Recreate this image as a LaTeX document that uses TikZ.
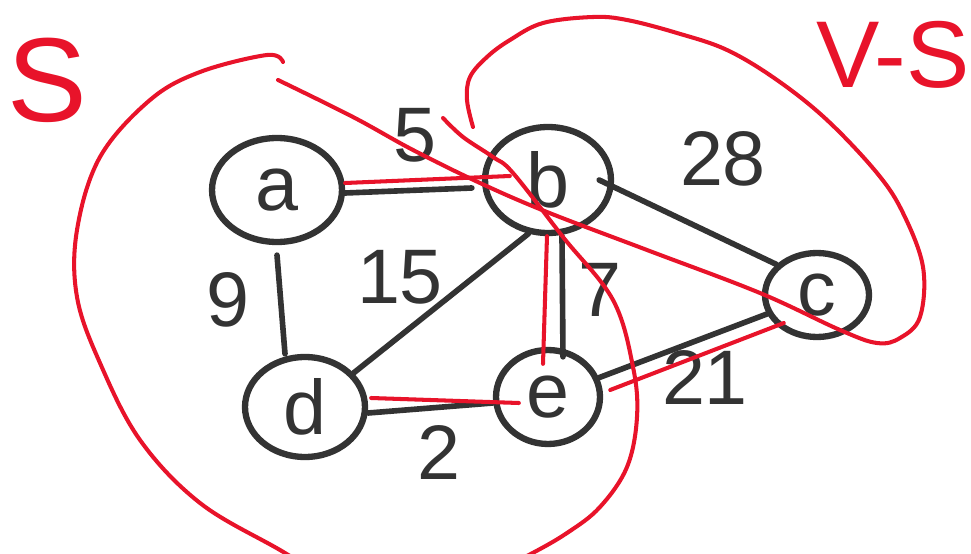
\documentclass[tikz,border=0pt]{standalone}
\usepackage{fontspec}
\setmainfont{Liberation Sans}
\usetikzlibrary{shapes.geometric}

\definecolor{ink}{HTML}{333333}
\definecolor{pen}{HTML}{E8132A}

\begin{document}
\begin{tikzpicture}[
  x=0.02cm,
  y=-0.02cm,
  line cap=round,
  line join=round,
  every node/.style={font=\fontsize{44}{44}\selectfont,text=ink},
  vertex node/.style={ellipse,draw=ink,line width=3.6pt,inner sep=0pt},
  edge line/.style={draw=ink,line width=3.2pt},
  cut line/.style={draw=pen,line width=2.3pt},
  weight label/.style={inner sep=0pt},
  set label/.style={text=pen,inner sep=0pt},
]
\useasboundingbox (0,0) rectangle (971,554);
\clip (0,0) rectangle (971,554);
\node[vertex node,minimum width=2.6cm,minimum height=2.08cm] (a) at (277,190) {a};
\node[vertex node,minimum width=2.52cm,minimum height=2.12cm] (b) at (548,180) {b};
\node[vertex node,minimum width=2.08cm,minimum height=1.68cm] (c) at (817,295) {c};
\node[vertex node,minimum width=2.4cm,minimum height=2.0cm] (d) at (305,407) {d};
\node[vertex node,minimum width=2.08cm,minimum height=1.88cm] (e) at (548,397) {e};
\node[set label,font=\fontsize{68}{68}\selectfont] (S) at (47,80) {S};
\node[set label,font=\fontsize{54}{54}\selectfont] (VS) at (893,55) {V-S};
% edges and weights
\draw[edge line] ([yshift=-0.06cm]a.east) -- ([xshift=-0.2cm,yshift=-0.16cm]b.west);
\node[weight label] (w5) at (415,135) {5};
\draw[edge line] ([yshift=-0.2cm]a.south) -- ([xshift=-0.4cm]d.north);
\node[weight label] (w9) at (228,300) {9};
\draw[edge line] (b.250) -- (d.35);
\node[weight label] (w15) at (400,277) {15};
\draw[edge line] ([xshift=-0.3cm]b.east) -- (c.143);
\node[weight label] (w28) at (723,159) {28};
\draw[edge line] ([xshift=0.28cm]b.south) -- ([xshift=0.3cm,yshift=-0.2cm]e.north);
\node[weight label] (w7) at (600,290) {7};
\draw[edge line] ([yshift=-0.12cm]d.east) -- ([yshift=-0.12cm]e.west);
\node[weight label] (w2) at (439,453) {2};
\draw[edge line] (e) -- (c);
\node[weight label] (w21) at (705,378) {21};
% marked edges
\draw[cut line] ([yshift=0.14cm]a.east) -- ([xshift=0.56cm,yshift=0.08cm]b.west);
\draw[cut line] ([xshift=-0.02cm]b.south) -- ([xshift=-0.1cm,yshift=-0.34cm]e.north);
\draw[cut line] ([xshift=0.06cm,yshift=0.18cm]d.east) -- ([xshift=0.52cm,yshift=-0.12cm]e.west);
\draw[cut line] ([xshift=0.14cm,yshift=0.14cm]e.east) -- ([xshift=0.44cm,yshift=-0.56cm]c.west);
% the two sets
\draw[cut line] plot[smooth,tension=0.6] coordinates {(443,118) (463,137) (493,157) (513,173) (563,237) (613,300) (633,367) (637,417) (627,467) (600,507) (567,533) (527,556) (460,590) (400,598) (340,585) (280,550) (200,503) (140,440) (100,363) (77,297) (77,230) (100,157) (150,100) (200,72) (267,55) (283,62)};
\draw[cut line] plot[smooth,tension=0.6] coordinates {(278,80) (353,117) (413,150) (480,183) (547,212) (647,250) (760,293) (840,330) (877,343) (900,338) (920,317) (923,267) (903,213) (877,173) (827,120) (777,80) (727,50) (677,33) (627,20) (593,17) (543,23) (510,40) (487,57) (470,77) (467,100) (473,127)};
\end{tikzpicture}
\end{document}
